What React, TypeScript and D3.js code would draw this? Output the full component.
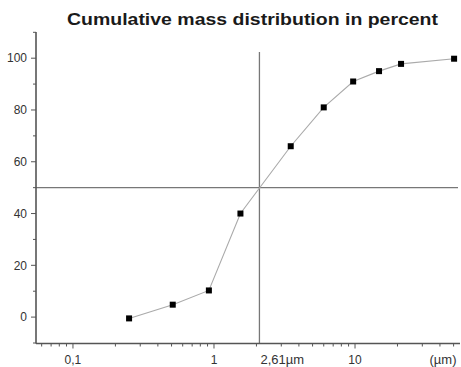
import React from "react";
import * as d3 from "d3";

const title = "Cumulative mass distribution in percent";
const sizes = [0.25, 0.51, 0.92, 1.54, 3.5, 6.0, 9.7, 14.8, 21.2, 50.4];
const percent = [-0.5, 4.8, 10.3, 40, 66, 81, 91, 95, 97.8, 99.8];
const d50Position = 2.1;
const d50Label = "2,61µm";
const unitLabel = "(µm)";
const xMajorTicks = [0.1, 1, 10];
const xMajorLabels = ["0,1", "1", "10"];
const xMinorTicks = [0.06, 0.07, 0.08, 0.09, 0.2, 0.3, 0.4, 0.5, 0.6, 0.7, 0.8, 0.9, 2, 3, 4, 5, 6, 7, 8, 9, 20, 30, 40, 50];
const yMajorTicks = [0, 20, 40, 60, 80, 100];
const yMinorTicks = [-10, 10, 30, 50, 70, 90, 110];
const crossY = 50;

const W = 461, H = 367;
const left = 36, right = 460, top = 32, bottom = 343.5;

export default function App() {
  const x = d3.scaleLog().domain([0.0547, 55.5]).range([left, right]);
  const y = d3.scaleLinear().domain([-10, 110]).range([343, 32.3]);
  const line = d3.line<number>().x((_, i) => x(sizes[i])).y((d) => y(d));
  const axisColor = "#555";
  const font = "'Liberation Sans', Arial, sans-serif";
  return (
    <svg width={W} height={H} style={{ position: "absolute", left: 0, top: 0, background: "#fff" }}>
      <text x={67} y={25} textAnchor="start" fontFamily={font} fontWeight="bold" fontSize={17} fill="#1a1a1a" textLength={371} lengthAdjust="spacingAndGlyphs">{title}</text>
      {/* crosshair */}
      <line x1={x(d50Position)} x2={x(d50Position)} y1={y(102.4)} y2={bottom} stroke="#777" strokeWidth={1.3} />
      <line x1={left} x2={458} y1={y(crossY)} y2={y(crossY)} stroke="#777" strokeWidth={1.3} />
      {/* series */}
      <path d={line(percent) || ""} fill="none" stroke="#aaa" strokeWidth={1.1} />
      {percent.map((v, i) => (
        <rect key={i} x={x(sizes[i]) - 3} y={y(v) - 3} width={6} height={6} fill="#000" />
      ))}
      {/* axes */}
      <line x1={left} x2={left} y1={top} y2={bottom} stroke={axisColor} strokeWidth={1.6} />
      <line x1={left} x2={right} y1={bottom} y2={bottom} stroke={axisColor} strokeWidth={1.6} />
      {yMajorTicks.map((t) => (
        <g key={"ym" + t}>
          <line x1={left - 5} x2={left} y1={y(t)} y2={y(t)} stroke={axisColor} strokeWidth={1} />
          <text x={27} y={y(t) + 4.3} textAnchor="end" fontFamily={font} fontSize={12} fill="#333">{t}</text>
        </g>
      ))}
      {yMinorTicks.map((t) => (
        <line key={"yn" + t} x1={left - 3} x2={left} y1={y(t)} y2={y(t)} stroke={axisColor} strokeWidth={1} />
      ))}
      {xMajorTicks.map((t, i) => (
        <g key={"xm" + t}>
          <line x1={x(t)} x2={x(t)} y1={bottom} y2={bottom + 5} stroke={axisColor} strokeWidth={1} />
          <text x={x(t)} y={364} textAnchor="middle" fontFamily={font} fontSize={12} fill="#333">{xMajorLabels[i]}</text>
        </g>
      ))}
      {xMinorTicks.map((t) => (
        <line key={"xn" + t} x1={x(t)} x2={x(t)} y1={bottom} y2={bottom + 3} stroke={axisColor} strokeWidth={1} />
      ))}
      <text x={x(d50Position) + 1} y={364} textAnchor="start" fontFamily={font} fontSize={13} fill="#333">{d50Label}</text>
      <text x={443} y={364} textAnchor="middle" fontFamily={font} fontSize={13} fill="#333">{unitLabel}</text>
    </svg>
  );
}
